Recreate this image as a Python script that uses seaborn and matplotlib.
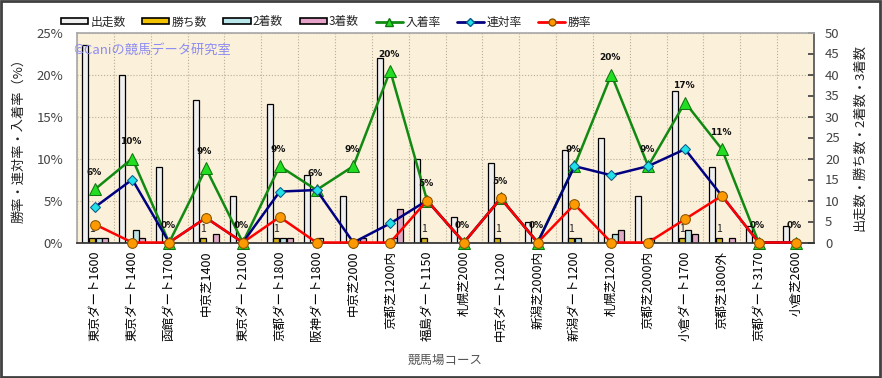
import numpy as np
import pandas as pd
import matplotlib
matplotlib.use('Agg')
import matplotlib.pyplot as plt
from matplotlib.patches import Patch, Rectangle
from matplotlib.lines import Line2D
import seaborn as sns

sns.set_theme(style="white")
plt.rcParams['font.family'] = ['Noto Sans CJK JP', 'DejaVu Sans']

# data
courses = ['東京ダート1600', '東京ダート1400', '函館ダート1700', '中京芝1400', '東京ダート2100',
           '京都ダート1800', '阪神ダート1800', '中京芝2000', '京都芝1200内', '福島ダート1150',
           '札幌芝2000', '中京ダート1200', '新潟芝2000内', '新潟ダート1200', '札幌芝1200',
           '京都芝2000内', '小倉ダート1700', '京都芝1800外', '京都ダート3170', '小倉芝2600']
runs = [47, 40, 18, 34, 11, 33, 16, 11, 44, 20, 6, 19, 5, 22, 25, 11, 36, 18, 4, 4]
wins = [1, 0, 0, 1, 0, 1, 0, 0, 0, 1, 0, 1, 0, 1, 0, 0, 1, 1, 0, 0]
seconds = [1, 3, 0, 0, 0, 1, 1, 0, 1, 0, 0, 0, 0, 1, 2, 1, 3, 0, 0, 0]
thirds = [1, 1, 0, 2, 0, 1, 0, 1, 8, 0, 0, 0, 0, 0, 3, 0, 2, 1, 0, 0]

runs_a = np.array(runs)
win_rate = np.array(wins) / runs_a * 100
rentai_rate = (np.array(wins) + np.array(seconds)) / runs_a * 100
place_rate = (np.array(wins) + np.array(seconds) + np.array(thirds)) / runs_a * 100

series_names = ['出走数', '勝ち数', '2着数', '3着数']
bar_colors = ['#efefef', '#f2c200', '#b8e6ea', '#e6a2c8']

df = pd.DataFrame({'course': courses * 4,
                   'series': np.repeat(series_names, len(courses)),
                   'value': runs + wins + seconds + thirds})

fig = plt.figure(figsize=(8.82, 3.78), dpi=100)
fig.patch.set_facecolor('white')
ax = fig.add_axes([77 / 882, 1 - 242.5 / 378, 737 / 882, 210 / 378])
ax.set_facecolor('#fbf0da')

# bars (counts) on the primary axes -> ticks on the right
sns.barplot(data=df, x='course', y='value', hue='series', hue_order=series_names,
            palette=bar_colors, order=courses, width=0.72, gap=0.1,
            edgecolor='black', linewidth=0.9, legend=False, ax=ax, zorder=2)

ax.set_xlim(-0.5, len(courses) - 0.5)
ax.set_ylim(0, 50)
ax.set_xlabel('競馬場コース', fontsize=9, color='#555555', labelpad=9)
ax.set_xticks(range(len(courses)))
ax.set_xticklabels(courses, rotation=90, fontsize=9, color='black')
ax.tick_params(axis='x', length=0, pad=6)

# grid: horizontal at every 5 %, vertical at category boundaries
ax.set_xticks(np.arange(-0.5, len(courses), 1), minor=True)
ax.tick_params(axis='x', which='minor', length=0)
ax.grid(True, which='minor', axis='x', color='#b8ae98', linestyle=':', linewidth=0.8)
ax.set_axisbelow(True)

for s in ['left', 'top']:
    ax.spines[s].set_color('#aaaaaa')
ax.spines['bottom'].set_color('#333333')
ax.spines['right'].set_color('#555555')

# win count labels
for i, w in enumerate(wins):
    if w > 0:
        ax.annotate(str(w), (i - 0.09, w), xytext=(0, 7), textcoords='offset points',
                    ha='center', va='center', fontsize=7.5, color='#222222')

# rates on the twin axes -> ticks on the left
ax2 = ax.twinx()
pos = np.arange(len(courses))

sns.lineplot(x=pos, y=place_rate, ax=ax2, color='#128a12', linewidth=1.8, marker='^',
             markersize=8, markerfacecolor='#22dd22', markeredgecolor='#117711',
             clip_on=False, zorder=4)
sns.lineplot(x=pos, y=rentai_rate, ax=ax2, color='#000080', linewidth=1.8, marker='D',
             markersize=5.5, markerfacecolor='#22e0e8', markeredgecolor='#0a5a8a',
             clip_on=False, zorder=5)
sns.lineplot(x=pos, y=win_rate, ax=ax2, color='#ff0000', linewidth=1.8, marker='o',
             markersize=7, markerfacecolor='#ff9900', markeredgecolor='#885500',
             clip_on=False, zorder=6)

ax2.set_ylim(0, 25)
ax2.set_xlim(-0.5, len(courses) - 0.5)
ax2.set_xlabel('')
for s in ax2.spines.values():
    s.set_visible(False)

# swap sides: counts on the right, rates on the left
ax.yaxis.tick_right()
ax.yaxis.set_label_position('right')
ax.set_yticks(np.arange(0, 51, 5))
ax.set_yticklabels([str(v) for v in range(0, 51, 5)])
ax.tick_params(axis='y', labelsize=9.5, colors='#444444', length=4, direction='in', pad=8)
ax.grid(False, axis='y')
ax.set_ylabel('出走数・勝ち数・2着数・3着数', fontsize=9.5, color='#222222', labelpad=10)

ax2.yaxis.tick_left()
ax2.yaxis.set_label_position('left')
ax2.set_yticks(np.arange(0, 26, 5))
ax2.set_yticklabels([f'{v}%' for v in range(0, 26, 5)])
ax2.tick_params(axis='y', labelsize=9.5, colors='#444444', length=0, pad=10)
ax2.set_ylabel('勝率・連対率・入着率（%）', fontsize=9.5, color='#222222', labelpad=8)
for v in range(5, 26, 5):
    ax.axhline(v * 2, color='#b8ae98', linestyle=':', linewidth=0.8, zorder=0.5)

for i, r in enumerate(place_rate):
    ax2.annotate(f'{int(round(r))}%', (i, r), xytext=(-1, 12), textcoords='offset points',
                 ha='center', va='center', fontsize=6.5, fontweight='bold',
                 family='DejaVu Sans', color='#111111', zorder=7)

# watermark
fig.text(73 / 882, 1 - 50 / 378, '©Caniの競馬データ研究室', fontsize=9.5, color='#8c8cf2',
         va='center', ha='left')

# legend
handles = [Patch(facecolor=c, edgecolor='black', linewidth=1.2) for c in bar_colors]
handles += [Line2D([], [], color='#128a12', lw=2, marker='^', markersize=6,
                   markerfacecolor='#22dd22', markeredgecolor='#117711'),
            Line2D([], [], color='#000080', lw=2, marker='D', markersize=4,
                   markerfacecolor='#22e0e8', markeredgecolor='#0a5a8a'),
            Line2D([], [], color='#ff0000', lw=2, marker='o', markersize=5,
                   markerfacecolor='#ff9900', markeredgecolor='#885500')]
labels = series_names + ['入着率', '連対率', '勝率']
fig.legend(handles, labels, loc='center', bbox_to_anchor=(326 / 882, 1 - 22 / 378), ncol=7,
           frameon=False, fontsize=8.5, handlelength=2.3, handleheight=0.45,
           handletextpad=0.2, columnspacing=1.4)

# outer frame
fig.patches.append(Rectangle((0.001, 0.002), 0.997, 0.996, transform=fig.transFigure,
                             fill=False, edgecolor='#404040', linewidth=2))

fig.savefig('out.png', dpi=100)
